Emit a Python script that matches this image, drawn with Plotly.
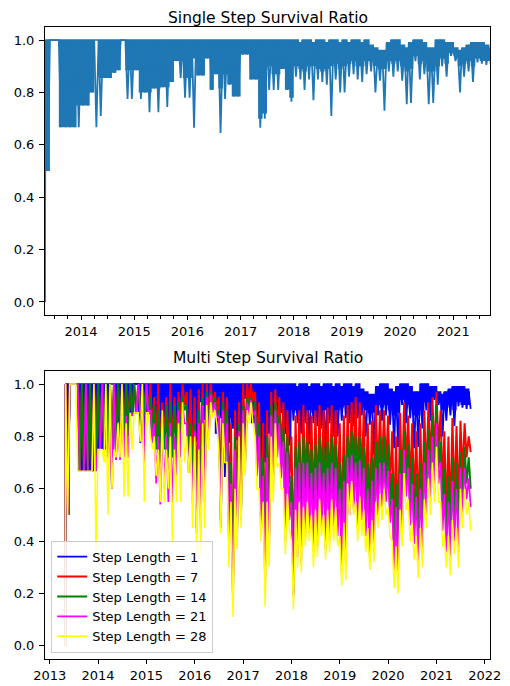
import pandas as pd
import plotly.graph_objects as go

# ---------------- data (one value per month) ----------------
series_start = "2013-04-28"
series_end = "2021-09-10"
start_value = 0.0
month_starts = list(pd.date_range("2013-05-01", periods=101, freq="MS"))

# Step Length = 1 (single step): top of band, plateau floor, deepest dip
step1_hi = [1.0] * 56 + [
    1.0, 0.99, 1.0, 1.0, 0.99, 1.0, 1.0, 0.99, 1.0, 1.0,
    0.99, 1.0, 0.99, 1.0, 1.0, 0.99, 1.0, 0.98, 0.97, 0.96,
    0.96, 0.99, 1.0, 1.0, 0.98, 0.97, 0.99, 1.0, 1.0, 0.99,
    0.97, 0.97, 1.0, 1.0, 0.99, 0.99, 0.97, 0.96, 0.97, 0.98,
    0.99, 0.99, 0.99, 0.98, 0.97]
step1_floor = [
    0.50, 1.00, 1.00, 0.667, 0.667, 0.667, 0.667, 0.75, 0.75, 0.75,
    0.80, 1.00, 0.855, 0.855, 0.855, 0.875, 0.885, 1.00, 0.885, 0.885,
    0.885, 0.80, 0.80, 0.80, 0.815, 0.815, 0.82, 0.82, 0.84, 0.92,
    0.92, 0.855, 0.855, 0.93, 0.865, 0.865, 0.93, 0.81, 0.87, 0.815,
    0.87, 0.83, 0.785, 0.785, 0.945, 0.945, 0.85, 0.85, 0.70, 0.72,
    0.90, 0.87, 0.87, 0.89, 0.81, 0.78, 0.90, 0.89, 0.88, 0.90,
    0.90, 0.89, 0.88, 0.89, 0.90, 0.91, 0.89, 0.90, 0.91, 0.92,
    0.90, 0.90, 0.92, 0.92, 0.90, 0.89, 0.89, 0.92, 0.91, 0.92,
    0.90, 0.88, 0.89, 0.94, 0.91, 0.92, 0.88, 0.88, 0.90, 0.93,
    0.91, 0.95, 0.94, 0.90, 0.91, 0.92, 0.90, 0.93, 0.92, 0.92,
    0.92]
step1_dip = [
    0.50, 1.00, 1.00, 0.667, 0.667, 0.667, 0.667, 0.667, 0.75, 0.75,
    0.80, 0.667, 0.71, 0.855, 0.855, 0.875, 0.885, 1.00, 0.775, 0.775,
    0.885, 0.775, 0.80, 0.725, 0.815, 0.725, 0.82, 0.745, 0.84, 0.92,
    0.855, 0.78, 0.78, 0.665, 0.865, 0.865, 0.93, 0.81, 0.87, 0.645,
    0.775, 0.83, 0.785, 0.785, 0.945, 0.945, 0.85, 0.85, 0.665, 0.70,
    0.81, 0.81, 0.81, 0.89, 0.81, 0.765, 0.86, 0.85, 0.81, 0.85,
    0.77, 0.85, 0.84, 0.83, 0.71, 0.85, 0.80, 0.80, 0.86, 0.87,
    0.85, 0.84, 0.87, 0.88, 0.80, 0.845, 0.73, 0.88, 0.86, 0.88,
    0.845, 0.755, 0.76, 0.92, 0.85, 0.87, 0.755, 0.76, 0.83, 0.90,
    0.86, 0.94, 0.92, 0.80, 0.86, 0.88, 0.84, 0.915, 0.91, 0.905,
    0.905]

step7_hi = [1.0] * 20 + [
    1.0, 1.0, 0.95, 1.0, 0.93, 0.95, 1.0, 0.95, 0.97, 1.0,
    0.97, 0.98, 0.95, 0.98, 1.0, 1.0, 1.0, 0.97, 0.95, 0.97,
    0.95, 0.85, 0.90, 0.93, 1.0, 1.0, 1.0, 0.97, 0.93, 0.85,
    0.90, 0.97, 0.98, 0.95, 0.93, 0.90, 0.80, 0.88, 0.90, 0.92,
    0.90, 0.88, 0.90, 0.92, 0.90, 0.91, 0.92, 0.90, 0.85, 0.88,
    0.92, 0.93, 0.95, 0.93, 0.90, 0.85, 0.86, 0.92, 0.90, 0.90,
    0.88, 0.82, 0.80, 0.89, 0.93, 0.88, 0.85, 0.82, 0.85, 0.90,
    0.93, 0.95, 0.97, 0.90, 0.82, 0.80, 0.87, 0.84, 0.86, 0.85,
    0.80]
step7_lo = [
    0.5, 1.0, 1.0, 0.667, 0.667, 0.667, 0.667, 0.75, 0.75, 0.75,
    0.80, 0.75, 0.80, 0.85, 0.80, 0.85, 0.88, 0.89, 0.89, 0.89,
    0.89, 0.80, 0.78, 0.72, 0.80, 0.72, 0.75, 0.75, 0.85, 0.92,
    0.75, 0.70, 0.55, 0.60, 0.65, 0.88, 0.92, 0.90, 0.55, 0.80,
    0.55, 0.20, 0.55, 0.62, 0.80, 0.92, 0.93, 0.78, 0.55, 0.33,
    0.50, 0.72, 0.82, 0.75, 0.55, 0.62, 0.30, 0.50, 0.48, 0.58,
    0.58, 0.50, 0.55, 0.60, 0.52, 0.56, 0.60, 0.56, 0.45, 0.48,
    0.62, 0.65, 0.60, 0.62, 0.58, 0.50, 0.52, 0.65, 0.66, 0.68,
    0.60, 0.45, 0.42, 0.58, 0.70, 0.60, 0.55, 0.48, 0.50, 0.63,
    0.68, 0.72, 0.75, 0.58, 0.50, 0.48, 0.55, 0.52, 0.65, 0.72,
    0.74]

step14_hi = [1.0] * 20 + [
    1.0, 0.95, 0.92, 0.90, 0.90, 0.92, 0.93, 0.92, 0.93, 0.95,
    0.92, 0.85, 0.85, 0.90, 0.95, 0.97, 0.97, 0.95, 0.90, 0.93,
    0.90, 0.70, 0.80, 0.85, 0.92, 0.95, 0.95, 0.93, 0.85, 0.72,
    0.80, 0.92, 0.93, 0.88, 0.83, 0.80, 0.65, 0.76, 0.78, 0.80,
    0.78, 0.75, 0.77, 0.80, 0.76, 0.78, 0.80, 0.77, 0.70, 0.73,
    0.80, 0.82, 0.80, 0.80, 0.76, 0.70, 0.72, 0.78, 0.80, 0.80,
    0.77, 0.66, 0.62, 0.75, 0.82, 0.77, 0.72, 0.66, 0.70, 0.78,
    0.83, 0.88, 0.92, 0.78, 0.68, 0.65, 0.72, 0.70, 0.74, 0.76,
    0.72]
step14_lo = [
    0.5, 1.0, 1.0, 0.667, 0.667, 0.667, 0.667, 0.67, 0.75, 0.75,
    0.75, 0.60, 0.75, 0.80, 0.75, 0.80, 0.88, 0.89, 0.89, 0.89,
    0.89, 0.78, 0.75, 0.70, 0.75, 0.72, 0.72, 0.72, 0.80, 0.90,
    0.72, 0.65, 0.45, 0.50, 0.60, 0.80, 0.90, 0.88, 0.48, 0.75,
    0.42, 0.29, 0.45, 0.52, 0.72, 0.90, 0.90, 0.70, 0.48, 0.36,
    0.42, 0.65, 0.75, 0.68, 0.45, 0.52, 0.20, 0.40, 0.38, 0.48,
    0.48, 0.40, 0.44, 0.50, 0.42, 0.46, 0.50, 0.46, 0.35, 0.38,
    0.55, 0.57, 0.52, 0.54, 0.48, 0.38, 0.42, 0.56, 0.58, 0.60,
    0.52, 0.35, 0.33, 0.48, 0.62, 0.52, 0.45, 0.40, 0.42, 0.55,
    0.60, 0.64, 0.68, 0.50, 0.43, 0.42, 0.46, 0.44, 0.55, 0.62,
    0.60]

step21_hi = [
    1.0, 1.0, 1.0, 1.0, 0.667, 1.0, 0.667, 1.0, 0.75, 1.0,
    0.80, 0.80, 1.0, 0.85, 1.0, 0.88, 0.89, 0.89, 1.0, 0.89,
    1.0, 0.90, 0.85, 0.80, 0.85, 0.80, 0.85, 0.80, 0.90, 0.93,
    0.85, 0.80, 0.82, 0.85, 0.92, 0.95, 0.96, 0.93, 0.88, 0.90,
    0.85, 0.62, 0.75, 0.82, 0.90, 0.93, 0.94, 0.90, 0.80, 0.65,
    0.72, 0.88, 0.90, 0.85, 0.78, 0.74, 0.55, 0.68, 0.70, 0.70,
    0.70, 0.66, 0.68, 0.70, 0.66, 0.68, 0.70, 0.68, 0.60, 0.63,
    0.72, 0.73, 0.70, 0.71, 0.68, 0.60, 0.63, 0.68, 0.70, 0.70,
    0.67, 0.56, 0.53, 0.66, 0.75, 0.68, 0.62, 0.57, 0.60, 0.70,
    0.75, 0.80, 0.85, 0.70, 0.58, 0.55, 0.63, 0.60, 0.68, 0.68,
    0.64]
step21_lo = [
    0.5, 1.0, 1.0, 0.667, 0.667, 0.667, 0.667, 0.67, 0.75, 0.75,
    0.72, 0.60, 0.71, 0.71, 0.72, 0.72, 0.88, 0.89, 0.89, 0.70,
    0.89, 0.78, 0.62, 0.54, 0.60, 0.55, 0.55, 0.65, 0.72, 0.85,
    0.66, 0.55, 0.43, 0.45, 0.55, 0.78, 0.89, 0.87, 0.45, 0.72,
    0.36, 0.17, 0.40, 0.48, 0.68, 0.88, 0.88, 0.65, 0.42, 0.22,
    0.36, 0.60, 0.72, 0.64, 0.40, 0.48, 0.19, 0.34, 0.32, 0.42,
    0.43, 0.36, 0.38, 0.45, 0.37, 0.40, 0.44, 0.42, 0.28, 0.31,
    0.50, 0.52, 0.46, 0.48, 0.42, 0.34, 0.37, 0.50, 0.53, 0.55,
    0.47, 0.27, 0.24, 0.42, 0.57, 0.46, 0.39, 0.32, 0.35, 0.50,
    0.55, 0.58, 0.62, 0.44, 0.36, 0.34, 0.40, 0.36, 0.50, 0.56,
    0.53]

step28_hi = [
    1.0, 1.0, 1.0, 0.667, 0.667, 0.667, 0.667, 1.0, 0.75, 0.75,
    1.0, 1.0, 0.75, 0.85, 1.0, 0.85, 0.89, 0.89, 0.89, 1.0,
    0.89, 0.80, 0.80, 0.75, 0.90, 0.75, 0.80, 0.75, 0.85, 0.93,
    0.80, 0.80, 0.80, 0.75, 0.85, 0.92, 0.93, 0.90, 0.75, 0.85,
    0.70, 0.55, 0.60, 0.80, 0.85, 0.90, 0.93, 0.80, 0.60, 0.55,
    0.55, 0.80, 0.85, 0.70, 0.60, 0.58, 0.40, 0.52, 0.55, 0.53,
    0.55, 0.50, 0.52, 0.56, 0.50, 0.52, 0.56, 0.53, 0.42, 0.47,
    0.62, 0.63, 0.55, 0.57, 0.52, 0.45, 0.48, 0.55, 0.58, 0.60,
    0.53, 0.40, 0.38, 0.52, 0.66, 0.56, 0.47, 0.42, 0.45, 0.56,
    0.64, 0.70, 0.76, 0.55, 0.43, 0.42, 0.48, 0.45, 0.60, 0.60,
    0.55]
step28_lo = [
    0.5, 1.0, 1.0, 0.667, 0.667, 0.667, 0.667, 0.36, 0.75, 0.70,
    0.50, 0.60, 0.72, 0.72, 0.57, 0.57, 0.75, 0.89, 0.78, 0.55,
    0.89, 0.75, 0.65, 0.55, 0.55, 0.60, 0.39, 0.55, 0.55, 0.70,
    0.66, 0.45, 0.35, 0.35, 0.45, 0.75, 0.87, 0.85, 0.43, 0.70,
    0.30, 0.11, 0.37, 0.45, 0.65, 0.85, 0.85, 0.60, 0.40, 0.15,
    0.30, 0.55, 0.68, 0.60, 0.35, 0.45, 0.14, 0.30, 0.28, 0.38,
    0.40, 0.30, 0.34, 0.42, 0.33, 0.36, 0.40, 0.38, 0.23, 0.25,
    0.50, 0.50, 0.40, 0.42, 0.36, 0.29, 0.32, 0.45, 0.48, 0.50,
    0.42, 0.22, 0.20, 0.38, 0.52, 0.40, 0.33, 0.26, 0.30, 0.45,
    0.50, 0.55, 0.55, 0.38, 0.30, 0.27, 0.35, 0.30, 0.45, 0.50,
    0.44]

legend_names = ["Step Length = 1", "Step Length = 7", "Step Length = 14",
                "Step Length = 21", "Step Length = 28"]
multi_colors = ["#0000ff", "#ff0000", "#008000", "#ff00ff", "#ffff00"]
multi_widths = [1.8, 2.0, 2.0, 1.7, 1.5]
single_color = "#1f77b4"

# ---------------- helpers ----------------
half_month = pd.Timedelta(days=15)


def zigzag(hi, lo):
    xs = [pd.Timestamp(series_start)]
    ys = [start_value]
    for d, h, l in zip(month_starts, hi, lo):
        xs += [d, d + half_month]
        ys += [h, l]
    return xs, ys


def band_traces(hi, floor, color, xaxis, yaxis):
    xs = [pd.Timestamp(series_start)] + month_starts + [pd.Timestamp(series_end)]
    lo_y = [start_value] + floor + [floor[-1]]
    hi_y = [1.0] + hi + [hi[-1]]
    t_lo = go.Scatter(x=xs, y=lo_y, mode="lines", line=dict(width=0, shape="hv", color=color),
                      showlegend=False, hoverinfo="skip", xaxis=xaxis, yaxis=yaxis)
    t_hi = go.Scatter(x=xs, y=hi_y, mode="lines", line=dict(width=1.5, shape="hv", color=color),
                      fill="tonexty", fillcolor=color, showlegend=False, hoverinfo="skip",
                      xaxis=xaxis, yaxis=yaxis)
    return [t_lo, t_hi]


fig = go.Figure()

# ---- top: single step ----
for t in band_traces(step1_hi, step1_floor, single_color, "x", "y"):
    fig.add_trace(t)
zx, zy = zigzag(step1_hi, step1_dip)
fig.add_trace(go.Scatter(x=zx, y=zy, mode="lines", line=dict(color=single_color, width=1.8),
                         showlegend=False, xaxis="x", yaxis="y"))

# ---- bottom: multi step ----
for t in band_traces(step1_hi, step1_floor, multi_colors[0], "x2", "y2"):
    fig.add_trace(t)
zx, zy = zigzag(step1_hi, step1_dip)
fig.add_trace(go.Scatter(x=zx, y=zy, mode="lines", name=legend_names[0],
                         line=dict(color=multi_colors[0], width=multi_widths[0]),
                         xaxis="x2", yaxis="y2"))

multi_series = [(step7_hi, step7_lo), (step14_hi, step14_lo),
                (step21_hi, step21_lo), (step28_hi, step28_lo)]
for (hi, lo), name, color, w in zip(multi_series, legend_names[1:], multi_colors[1:],
                                    multi_widths[1:]):
    zx, zy = zigzag(hi, lo)
    fig.add_trace(go.Scatter(x=zx, y=zy, mode="lines", name=name,
                             line=dict(color=color, width=w), xaxis="x2", yaxis="y2"))

font_family = "DejaVu Sans"
axis_common = dict(showline=True, linecolor="black", linewidth=1, mirror=True,
                   ticks="outside", tickcolor="black", showgrid=False,
                   zeroline=False, automargin=False,
                   tickfont=dict(size=13, color="black"))
x_ticks = dict(ticklen=4, ticklabelstandoff=0)
y_ticks = dict(ticklen=5, ticklabelstandoff=2)

# the page body adds an 8 px offset, so the figure is 8 px smaller each way
fig.update_layout(
    width=502, height=678,
    margin=dict(l=37, r=20, t=19, b=27),
    paper_bgcolor="white", plot_bgcolor="white",
    font=dict(family=font_family, color="black"),
    xaxis=dict(domain=[0, 1], anchor="y", type="date",
               range=[series_start, series_end], tickformat="%Y",
               dtick="M12", tick0="2013-01-01",
               minor=dict(dtick="M3", tick0="2013-01-01", ticklen=2.5, ticks="outside",
                          tickcolor="black"),
               **x_ticks, **axis_common),
    yaxis=dict(domain=[0.5442, 1.0], anchor="x", range=[-0.05, 1.05], dtick=0.2,
               tickformat=".1f", **y_ticks, **axis_common),
    xaxis2=dict(domain=[0, 1], anchor="y2", type="date",
                range=["2012-11-26", "2022-02-09"], tickformat="%Y",
                dtick="M12", tick0="2013-01-01", **x_ticks, **axis_common),
    yaxis2=dict(domain=[0.0, 0.4558], anchor="x2", range=[-0.05, 1.05], dtick=0.2,
                tickformat=".1f", **y_ticks, **axis_common),
    legend=dict(x=0.014, y=0.01, xanchor="left", yanchor="bottom", traceorder="normal",
                bgcolor="rgba(255,255,255,0.8)", bordercolor="#cccccc", borderwidth=1,
                font=dict(size=13, color="black", family=font_family), tracegroupgap=0),
    annotations=[
        dict(text="Single Step Survival Ratio", x=0.5, y=1.0, xref="paper", yref="paper",
             xanchor="center", yanchor="bottom", yshift=-2, showarrow=False,
             font=dict(size=15.5, color="black", family=font_family)),
        dict(text="Multi Step Survival Ratio", x=0.5, y=0.4558, xref="paper", yref="paper",
             xanchor="center", yanchor="bottom", yshift=2, showarrow=False,
             font=dict(size=15.5, color="black", family=font_family)),
    ],
)

fig.write_html("out.html")
